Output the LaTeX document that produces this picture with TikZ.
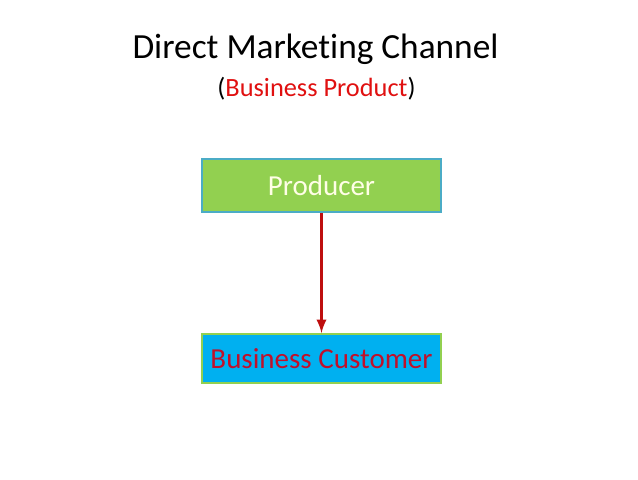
\documentclass[tikz,border=0pt]{standalone}
\usepackage{fontspec}
\setmainfont[Ligatures={NoCommon}]{Carlito}
\usepackage{tikz}
\usetikzlibrary{arrows,positioning}
\definecolor{prodgreen}{HTML}{92D050}
\definecolor{prodedge}{HTML}{4BACC6}
\definecolor{custblue}{HTML}{00B0F0}
\definecolor{darkred}{HTML}{C0102A}
\definecolor{brightred}{HTML}{E01010}

\begin{document}
\begin{tikzpicture}[
    node distance=2.2cm,
    ttl/.style={anchor=base, font=\fontsize{20.1}{24}\selectfont},
    sub/.style={anchor=base, font=\fontsize{15}{18}\selectfont},
    box/.style={draw, line width=1.1pt, minimum width=4.78cm, align=center, font=\fontsize{16.5}{20}\selectfont},
    flow/.style={-latex, draw=brightred!85!black, line width=1.6pt}
]
\useasboundingbox (0,0) rectangle (12.76,-9.58);

% heading
\node[ttl] (title) at (6.31,-1.16) {Direct Marketing Channel};
\node[sub] (subtitle) at (6.33,-1.92) {(\textcolor{brightred}{Business Product})};

% boxes
\node[box, fill=prodgreen, draw=prodedge, minimum height=1.06cm, text=white!90!yellow] (producer) at (6.43,-3.71) {Producer};
\node[box, fill=custblue, draw=prodgreen, minimum height=0.98cm, text=darkred] (customer) at (6.43,-7.17) {Business Customer};

% channel
\draw[flow] (producer) -- (customer);
\end{tikzpicture}
\end{document}
